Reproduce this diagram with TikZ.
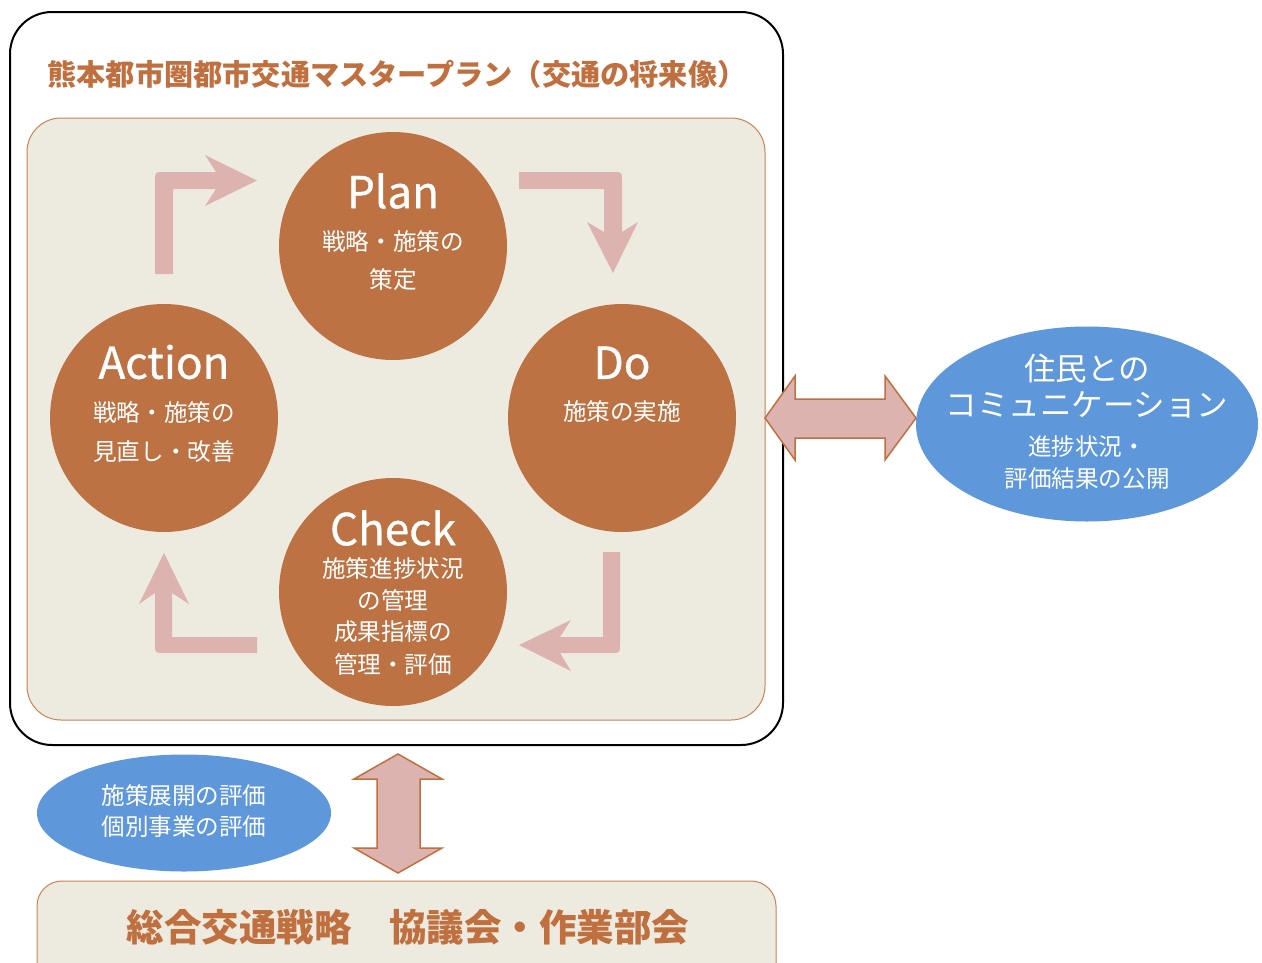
\documentclass[tikz,border=0pt]{standalone}
\usepackage{fontspec}
\setmainfont{Noto Sans CJK JP}
\newfontfamily\pdcafont[FakeBold=0.8]{Noto Sans CJK JP}
\usetikzlibrary{shapes.geometric}
\definecolor{circ}{HTML}{BC7243}
\definecolor{ttl}{HTML}{C0703F}
\definecolor{beige}{HTML}{EDEAE0}
\definecolor{pinkar}{HTML}{DDB3B0}
\definecolor{blueel}{HTML}{5F97DB}
\definecolor{inborder}{HTML}{C98356}
\tikzset{
  pdca/.style={circle, fill=circ, minimum size=228pt, inner sep=0pt},
  bigword/.style={text=white, font=\pdcafont\fontsize{44}{48}\selectfont, inner sep=0pt},
  jp/.style={text=white, font=\fontsize{23.6}{26}\selectfont, inner sep=0pt},
  jpbig/.style={text=white, font=\fontsize{31.5}{34}\selectfont, inner sep=0pt},
  cyc/.style={fill=pinkar},
  dbl/.style={fill=pinkar, draw=ttl, line width=1.5pt, line join=miter},
  bluel/.style={ellipse, fill=blueel, inner sep=0pt},
}
\begin{document}
\begin{tikzpicture}[x=1pt,y=-1pt]
\useasboundingbox (0,0) rectangle (1262,962);
\fill[white] (0,0) rectangle (1262,962);
% outer frame
\draw[line width=2pt, rounded corners=42pt] (10,12) rectangle (783,745);
\node[text=ttl, font=\bfseries\fontsize{29.2}{31}\selectfont, inner sep=0pt] (title) at (397,74) {熊本都市圏都市交通マスタープラン（交通の将来像）};
% inner panel
\draw[fill=beige, draw=inborder, line width=1pt, rounded corners=34pt] (27,118) rectangle (765,720);
% cycle arrows
\fill[cyc] (155,274) -- (155,181) .. controls (155,172) .. (164,172) -- (216,172) -- (205,155) -- (257,180.5) -- (205,206) -- (216,189) -- (173,189) -- (173,274) -- cycle;
\fill[cyc] (519,172) -- (613,172) .. controls (622,172) .. (622,181) -- (622,232) -- (638,222) -- (613,273) -- (587,222) -- (604,232) -- (604,189) -- (519,189) -- cycle;
\fill[cyc] (620,552) -- (620,644) .. controls (620,653) .. (611,653) -- (560,653) -- (571,671) -- (519,645) -- (571,620) -- (560,637) -- (603,637) -- (603,552) -- cycle;
\fill[cyc] (257,653) -- (164,653) .. controls (155,653) .. (155,644) -- (155,593) -- (139,604) -- (164,553) -- (189,604) -- (172,593) -- (172,637) -- (257,637) -- cycle;
% circles
\node[pdca] (plan) at (393,246) {};
\node[pdca] (do) at (622,418) {};
\node[pdca] (action) at (164,418) {};
\node[pdca] (check) at (393,592) {};
\node[bigword] (planw) at (393,191) {Plan};
\node[jp] (plan1) at (393,241) {戦略・施策の};
\node[jp] (plan2) at (393,280) {策定};
\node[bigword] (dow) at (622,363) {Do};
\node[jp] (do1) at (622,412) {施策の実施};
\node[bigword] (actionw) at (164,362) {Action};
\node[jp] (action1) at (164,412) {戦略・施策の};
\node[jp] (action2) at (164,452) {見直し・改善};
\node[bigword] (checkw) at (393,528) {Check};
\node[jp] (check1) at (393,568) {施策進捗状況};
\node[jp] (check2) at (393,600) {の管理};
\node[jp] (check3) at (393,632) {成果指標の};
\node[jp] (check4) at (393,664) {管理・評価};
% right double arrow
\draw[dbl] (765,418) -- (795,376) -- (795,399) -- (885,399) -- (885,376) -- (916,418) -- (885,460) -- (885,438) -- (795,438) -- (795,460) -- cycle;
% right ellipse
\node[bluel, minimum width=342pt, minimum height=195pt] (resid) at (1087,424) {};
\node[jpbig] (r1) at (1087,368) {住民との};
\node[jpbig] (r2) at (1087,405) {コミュニケーション};
\node[jp] (r3) at (1087,447) {進捗状況・};
\node[jp] (r4) at (1087,479) {評価結果の公開};
% vertical double arrow
\draw[dbl] (398,754) -- (442,779) -- (420,779) -- (420,848) -- (442,848) -- (398,873) -- (354,848) -- (377,848) -- (377,779) -- (354,779) -- cycle;
% left ellipse
\node[bluel, minimum width=294pt, minimum height=117pt] (evalel) at (184,813) {};
\node[jp] (e1) at (184,795) {施策展開の評価};
\node[jp] (e2) at (184,827) {個別事業の評価};
% bottom panel
\draw[fill=beige, draw=inborder, line width=1pt, rounded corners=25pt] (37,881) rectangle (776,1000);
\node[text=ttl, font=\bfseries\fontsize{37.5}{40}\selectfont, inner sep=0pt] (council) at (408,927) {総合交通戦略　協議会・作業部会};
\end{tikzpicture}
\end{document}
